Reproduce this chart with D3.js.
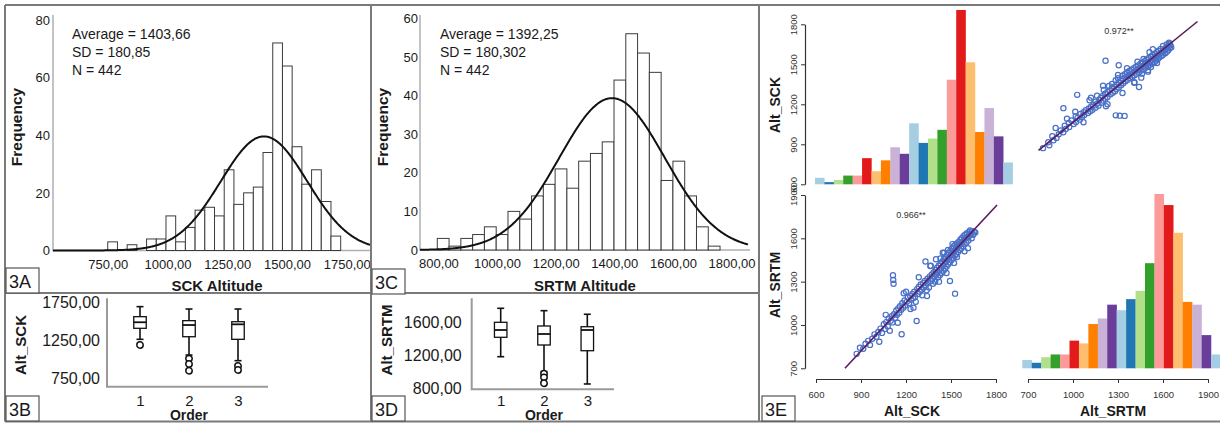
<!DOCTYPE html>
<html>
<head>
<meta charset="utf-8">
<script src="https://cdn.jsdelivr.net/npm/d3@7/dist/d3.min.js"></script>
<style>
  html, body { margin: 0; background: #fff; }
  svg { display: block; font-family: "Liberation Sans", Arial, sans-serif; }
</style>
</head>
<body>
<svg id="fig" width="1220" height="423"></svg>
<script>
/* ========= DATA ========= */
// 3A - SCK altitude histogram
const sckBinStart = 750;
const sckBinWidth = 40.6;
const sckCounts = [3,0,2,0,4,4,12,3,8,14,15,12,28,16,20,22,34,72,64,36,23,28,17,5];
const sckMean = 1403.66, sckSD = 180.85, sckN = 442;
const sckTicksX = [750,1000,1250,1500,1750];
const sckTicksY = [0,20,40,60,80];

// 3C - SRTM altitude histogram
const srtmBinStart = 796;
const srtmBinWidth = 40.2;
const srtmCounts = [3,1,3,4,6,4,10,8,14,17,21,16,23,25,28,44,56,51,46,18,23,14,6,1];
const srtmMean = 1392.25, srtmSD = 180.302, srtmN = 442;
const srtmTicksX = [800,1000,1200,1400,1600,1800];
const srtmTicksY = [0,10,20,30,40,50,60];

// 3B / 3D - box plots by order
const orders = [1,2,3];
const boxSCK = [
  { lo: 1262, q1: 1406, med: 1485, q3: 1558, hi: 1689, out: [1188] },
  { lo: 1057, q1: 1296, med: 1449, q3: 1506, hi: 1658, out: [1010, 940, 852] },
  { lo: 983,  q1: 1262, med: 1458, q3: 1492, hi: 1658, out: [913, 861] }
];
const boxSRTM = [
  { lo: 1182, q1: 1419, med: 1508, q3: 1602, hi: 1773, out: [] },
  { lo: 1000, q1: 1325, med: 1459, q3: 1557, hi: 1744, out: [975, 930, 857] },
  { lo: 849,  q1: 1255, med: 1508, q3: 1548, hi: 1700, out: [] }
];
const boxTicksSCK = [750,1250,1750];
const boxTicksSRTM = [800,1200,1600];

// 3E - scatter matrix
const pairTicksSCK = [600,900,1200,1500,1800];
const pairTicksSRTM = [700,1000,1300,1600,1900];
const pairHistSCK = [3,1,2,4,4,12,6,11,17,14,28,19,21,25,48,80,56,24,35,22,10];
const pairHistSRTM = [3,2,4,5,5,10,9,16,18,23,21,25,28,38,63,59,49,24,23,12,5];
const pairColors = ["#a6cee3","#1f78b4","#b2df8a","#33a02c","#fb9a99","#e31a1c","#fdbf6f","#ff7f00","#cab2d6","#6a3d9a"];
// [Alt_SCK, Alt_SRTM]
const pairPoints = [
  [871,800],[893,842],[915,835],[930,870],[948,890],[960,862],[975,905],[990,935],[1003,918],[1015,952],
  [1022,884],[1030,975],[1040,945],[1052,1005],[1060,972],[1068,1020],[1078,990],[1085,1045],[1092,960],[1098,1030],
  [1105,1060],[1110,1018],[1113,1344],[1115,1312],[1117,1285],[1120,1075],[1128,1050],[1135,1100],[1140,1070],[1148,1115],
  [1155,1085],[1160,1130],[1171,936],[1168,1105],[1175,1150],[1182,1120],[1190,1170],[1195,1135],[1200,1230],[1205,1160],
  [1212,1190],[1220,1150],[1228,1200],[1235,1175],[1242,1215],[1248,1185],[1255,1230],[1260,1195],[1265,1160],[1271,1028],
  [1275,1250],[1280,1215],[1286,1265],[1292,1230],[1298,1280],[1303,1245],[1308,1205],[1315,1290],[1320,1260],[1326,1305],
  [1332,1275],[1338,1240],[1343,1320],[1348,1290],[1353,1260],[1358,1335],[1362,1408],[1366,1305],[1372,1350],[1376,1320],
  [1380,1285],[1385,1365],[1390,1335],[1395,1300],[1398,1380],[1330,1440],[1402,1350],[1406,1395],[1410,1365],[1414,1330],
  [1418,1410],[1422,1380],[1426,1345],[1430,1425],[1434,1395],[1438,1360],[1442,1440],[1446,1410],[1450,1375],[1453,1455],
  [1457,1425],[1460,1390],[1464,1470],[1468,1440],[1471,1405],[1475,1485],[1478,1455],[1482,1420],[1485,1500],[1489,1470],
  [1493,1305],[1492,1435],[1496,1515],[1500,1485],[1504,1450],[1507,1530],[1511,1500],[1514,1465],[1518,1545],[1522,1515],
  [1525,1480],[1527,1217],[1529,1555],[1533,1525],[1536,1490],[1540,1565],[1544,1540],[1547,1505],[1551,1575],[1555,1550],
  [1558,1520],[1480,1520],[1455,1500],[1430,1460],[1510,1560],[1540,1470],[1562,1590],[1565,1560],[1568,1530],[1572,1600],
  [1576,1575],[1580,1545],[1583,1615],[1587,1590],[1590,1560],[1594,1625],[1598,1600],[1602,1570],[1606,1635],[1610,1610],
  [1613,1532],[1616,1585],[1620,1645],[1624,1620],[1627,1655],[1632,1630],[1638,1600],[1642,1650],[1648,1625],[1655,1645],
  [1662,1640],[1250,1120],[1285,1330],[1340,1200],[1400,1455],[1420,1300],[1445,1500],[1185,1220],[1230,1110],[1365,1410],
  [1590,1510],[1470,1360],[1065,1070],[1145,1015],[1520,1430]
];
// fitted lines
const fitLowLeft = [[793,700],[1807,1831]];    // x = Alt_SCK, y = Alt_SRTM
const fitTopRight = [[770,855],[1830,1821]];   // x = Alt_SRTM, y = Alt_SCK
const corrLabels = ["0.972**","0.966**"];

/* ========= HELPERS ========= */
const svg = d3.select("#fig");
const INK = "#1a1a1a";
const comma2 = v => d3.format(".2f")(v).replace(".", ",");
const normalPdf = (v, m, s) => Math.exp(-0.5 * ((v - m) / s) ** 2) / (s * Math.sqrt(2 * Math.PI));

function plainAxis(sel, size) {
  sel.attr("font-family", null).attr("font-size", size);
  sel.select(".domain").remove();
  sel.selectAll(".tick line").remove();
  sel.selectAll(".tick text").attr("fill", INK);
}

/* ========= 3A / 3C histograms ========= */
function drawHistogram(p) {
  const g = svg.append("g");
  const x = d3.scaleLinear().domain(p.xDomain).range(p.xRange);
  const y = d3.scaleLinear().domain(p.yDomain).range(p.yRange);
  const base = y(0);

  g.append("path")
    .attr("d", `M${p.xRange[0]},${p.yRange[1]}V${base}H${p.xRange[1]}`)
    .attr("fill", "none").attr("stroke", "#b0b0b0").attr("stroke-width", 1.5);

  const bins = p.counts
    .map((c, i) => ({ c, x0: p.binStart + i * p.binWidth, x1: p.binStart + (i + 1) * p.binWidth }))
    .filter(d => d.c > 0);
  g.selectAll("rect.bar").data(bins).join("rect")
    .attr("class", "bar")
    .attr("x", d => x(d.x0))
    .attr("width", d => x(d.x1) - x(d.x0))
    .attr("y", d => y(d.c))
    .attr("height", d => base - y(d.c))
    .attr("fill", "#fff").attr("stroke", "#3c3c3c").attr("stroke-width", 1);

  // normal curve from the stated mean / SD / N
  const k = p.n * p.binWidth;
  const xs = d3.range(p.xDomain[0], p.curveEnd, 2).concat([p.curveEnd]);
  g.append("path").datum(xs)
    .attr("d", d3.line().x(v => x(v)).y(v => y(k * normalPdf(v, p.mean, p.sd))))
    .attr("fill", "none").attr("stroke", "#111").attr("stroke-width", 2);

  g.append("g").attr("transform", `translate(${p.xRange[0]},0)`)
    .call(d3.axisLeft(y).tickValues(p.ticksY).tickSize(0).tickPadding(p.yPad))
    .call(s => plainAxis(s, 13));
  g.append("g").attr("transform", `translate(0,${base})`)
    .call(d3.axisBottom(x).tickValues(p.ticksX).tickFormat(comma2).tickSize(0).tickPadding(9))
    .call(s => plainAxis(s, 13));

  const lines = [`Average = ${comma2(p.mean)}`, `SD = ${String(p.sd).replace(".", ",")}`, `N = ${p.n}`];
  g.selectAll("text.stat").data(lines).join("text")
    .attr("class", "stat")
    .attr("x", p.statX).attr("y", (d, i) => 39 + i * 18)
    .attr("font-size", 14).attr("fill", INK)
    .text(d => d);

  g.append("text").attr("transform", `translate(${p.freqX},127) rotate(-90)`)
    .attr("text-anchor", "middle").attr("font-size", 15.5).attr("font-weight", "bold").attr("fill", INK)
    .text("Frequency");
  g.append("text").attr("x", p.titleX).attr("y", 291)
    .attr("text-anchor", "middle").attr("font-size", 15).attr("font-weight", "bold").attr("fill", INK)
    .text(p.title);
}

drawHistogram({
  counts: sckCounts, binStart: sckBinStart, binWidth: sckBinWidth,
  mean: sckMean, sd: sckSD, n: sckN, ticksX: sckTicksX, ticksY: sckTicksY,
  xDomain: [521, 1847], xRange: [53, 370], yDomain: [0, 81.7], yRange: [250.5, 15],
  curveEnd: 1847, yPad: 3, statX: 72, freqX: 22, titleX: 217, title: "SCK Altitude"
});
drawHistogram({
  counts: srtmCounts, binStart: srtmBinStart, binWidth: srtmBinWidth,
  mean: srtmMean, sd: srtmSD, n: srtmN, ticksX: srtmTicksX, ticksY: srtmTicksY,
  xDomain: [737, 1863], xRange: [420, 750], yDomain: [0, 60.85], yRange: [250, 15],
  curveEnd: 1856, yPad: 2, statX: 440, freqX: 388, titleX: 585, title: "SRTM Altitude"
});

/* ========= 3B / 3D box plots ========= */
function drawBoxplot(p) {
  const g = svg.append("g");
  const x = d3.scalePoint().domain(orders).range(p.xRange);
  const y = d3.scaleLinear().domain(p.yDomain).range(p.yRange);
  const bw = 12.5, cw = 7;

  g.append("path")
    .attr("d", `M${p.axisX[0]},${p.yRange[1]}V${p.yRange[0]}H${p.axisX[1]}`)
    .attr("fill", "none").attr("stroke", "#9a9a9a").attr("stroke-width", 2);

  const box = g.selectAll("g.box").data(p.stats).join("g")
    .attr("class", "box")
    .attr("transform", (d, i) => `translate(${x(orders[i])},0)`)
    .attr("stroke", "#111").attr("fill", "none");
  box.append("line").attr("y1", d => y(d.hi)).attr("y2", d => y(d.lo)).attr("stroke-width", 1.6);
  box.append("line").attr("x1", -cw / 2).attr("x2", cw / 2).attr("y1", d => y(d.hi)).attr("y2", d => y(d.hi)).attr("stroke-width", 1.6);
  box.append("line").attr("x1", -cw / 2).attr("x2", cw / 2).attr("y1", d => y(d.lo)).attr("y2", d => y(d.lo)).attr("stroke-width", 1.6);
  box.append("rect").attr("x", -bw / 2).attr("width", bw)
    .attr("y", d => y(d.q3)).attr("height", d => y(d.q1) - y(d.q3))
    .attr("fill", "#fff").attr("stroke-width", 1.3);
  box.append("line").attr("x1", -bw / 2).attr("x2", bw / 2).attr("y1", d => y(d.med)).attr("y2", d => y(d.med)).attr("stroke-width", 1.8);
  box.selectAll("circle").data(d => d.out).join("circle")
    .attr("cy", v => y(v)).attr("r", 3.2).attr("fill", "#fff").attr("stroke-width", 1.5);

  g.append("g").attr("transform", `translate(${p.axisX[0]},0)`)
    .call(d3.axisLeft(y).tickValues(p.ticks).tickFormat(comma2).tickSize(0).tickPadding(p.yPad))
    .call(s => plainAxis(s, 16));
  g.append("g").attr("transform", `translate(0,${p.yRange[0]})`)
    .call(d3.axisBottom(x).tickSize(0).tickPadding(p.xPad))
    .call(s => plainAxis(s, 15));

  g.append("text").attr("transform", `translate(${p.labelX},${p.labelY}) rotate(-90)`)
    .attr("text-anchor", "middle").attr("font-size", 15).attr("font-weight", "bold").attr("fill", INK)
    .text(p.label);
  g.append("text").attr("x", x(2)).attr("y", 419.5)
    .attr("text-anchor", "middle").attr("font-size", 14).attr("font-weight", "bold").attr("fill", INK)
    .text("Order");
}

drawBoxplot({
  stats: boxSCK, ticks: boxTicksSCK, xRange: [140, 238], axisX: [107, 268],
  yDomain: [643, 1798], yRange: [386.7, 298.3], yPad: 7, xPad: 8.5,
  label: "Alt_SCK", labelX: 26, labelY: 345
});
drawBoxplot({
  stats: boxSRTM, ticks: boxTicksSRTM, xRange: [500.7, 587.3], axisX: [471.7, 614],
  yDomain: [784, 1895], yRange: [389.3, 298.3], yPad: 10, xPad: 6,
  label: "Alt_SRTM", labelX: 392, labelY: 340
});

/* ========= 3E scatter matrix ========= */
(function drawPairs() {
  const g = svg.append("g");
  const col1 = d3.scaleLinear().domain(d3.extent(pairTicksSCK)).range([816, 996]);
  const col2 = d3.scaleLinear().domain(d3.extent(pairTicksSRTM)).range([1028, 1208]);
  const row1 = d3.scaleLinear().domain(d3.extent(pairTicksSCK)).range([184.3, 24.3]);
  const row2 = d3.scaleLinear().domain(d3.extent(pairTicksSRTM)).range([368.3, 195]);

  function diagHist(counts, xr, base, top) {
    const bx = d3.scaleBand().domain(d3.range(counts.length)).range(xr);
    const by = d3.scaleLinear().domain([0, d3.max(counts)]).range([base, top]);
    g.append("g").selectAll("rect").data(counts).join("rect")
      .attr("x", (d, i) => bx(i)).attr("width", bx.bandwidth() + 0.2)
      .attr("y", d => by(d)).attr("height", d => base - by(d))
      .attr("fill", (d, i) => pairColors[i % pairColors.length]);
  }
  diagHist(pairHistSCK, [815, 1012.7], 184.3, 10);
  diagHist(pairHistSRTM, [1022.3, 1220.5], 368.3, 194);

  const dot = s => s.attr("r", 2.6).attr("fill", "none").attr("stroke", "#4a6fc7").attr("stroke-width", 1.2);
  g.append("g").selectAll("circle").data(pairPoints).join("circle")
    .attr("cx", d => col1(d[0])).attr("cy", d => row2(d[1])).call(dot);
  g.append("g").selectAll("circle").data(pairPoints).join("circle")
    .attr("cx", d => col2(d[1])).attr("cy", d => row1(d[0])).call(dot);

  const fitStyle = s => s.attr("fill", "none").attr("stroke", "#5a1b5e").attr("stroke-width", 1.6);
  g.append("path").datum(fitLowLeft).attr("d", d3.line().x(d => col1(d[0])).y(d => row2(d[1]))).call(fitStyle);
  g.append("path").datum(fitTopRight).attr("d", d3.line().x(d => col2(d[0])).y(d => row1(d[1]))).call(fitStyle);

  g.append("text").attr("x", 1119).attr("y", 34).attr("text-anchor", "middle")
    .attr("font-size", 9).attr("fill", "#333").text(corrLabels[0]);
  g.append("text").attr("x", 911).attr("y", 218).attr("text-anchor", "middle")
    .attr("font-size", 9).attr("fill", "#333").text(corrLabels[1]);

  const axisStyle = s => {
    s.attr("font-family", null).attr("font-size", 9.5).attr("color", "#333");
    s.select(".domain").attr("stroke-width", 1.2);
  };
  const rotLeft = s => s.selectAll(".tick text")
    .attr("transform", "rotate(-90)").attr("x", 0).attr("y", -8.5).attr("dy", 0).attr("text-anchor", "middle");
  const plain = d3.format("d");

  g.append("g").attr("transform", "translate(805,0)")
    .call(d3.axisLeft(row1).tickValues(pairTicksSCK).tickFormat(plain).tickSize(4).tickSizeOuter(0))
    .call(axisStyle).call(rotLeft);
  g.append("g").attr("transform", "translate(805,0)")
    .call(d3.axisLeft(row2).tickValues(pairTicksSRTM).tickFormat(plain).tickSize(4).tickSizeOuter(0))
    .call(axisStyle).call(rotLeft);
  g.append("g").attr("transform", "translate(0,379)")
    .call(d3.axisBottom(col1).tickValues(pairTicksSCK).tickFormat(plain).tickSize(4).tickSizeOuter(0).tickPadding(8))
    .call(axisStyle);
  g.append("g").attr("transform", "translate(0,379)")
    .call(d3.axisBottom(col2).tickValues(pairTicksSRTM).tickFormat(plain).tickSize(4).tickSizeOuter(0).tickPadding(8))
    .call(axisStyle);

  const lab = (x, y, rot, t) => g.append("text")
    .attr("transform", `translate(${x},${y})${rot ? " rotate(-90)" : ""}`)
    .attr("text-anchor", "middle").attr("font-size", 14).attr("font-weight", "bold").attr("fill", INK).text(t);
  lab(780, 105, true, "Alt_SCK");
  lab(780, 285, true, "Alt_SRTM");
  lab(912, 416, false, "Alt_SCK");
  lab(1113, 416, false, "Alt_SRTM");
})();

/* ========= frame & panel tags ========= */
const frame = svg.append("g").attr("stroke", "#7a7a7a").attr("stroke-width", 2).attr("fill", "none");
frame.append("path").attr("d", "M5,5H1220M5,421.5H1220M5,5V421.5M371,5V421.5M759,5V421.5M5,293H759");

const tags = [["3A", 6, 268], ["3C", 372, 269], ["3B", 6, 396], ["3D", 372, 396], ["3E", 762, 396]];
const tag = svg.append("g").selectAll("g").data(tags).join("g")
  .attr("transform", d => `translate(${d[1]},${d[2]})`);
tag.append("rect").attr("width", 33).attr("height", 25).attr("fill", "#fff").attr("stroke", "#555").attr("stroke-width", 1.2);
tag.append("text").attr("x", 3).attr("y", 20).attr("font-size", 18).attr("fill", INK).text(d => d[0]);
</script>
</body>
</html>
